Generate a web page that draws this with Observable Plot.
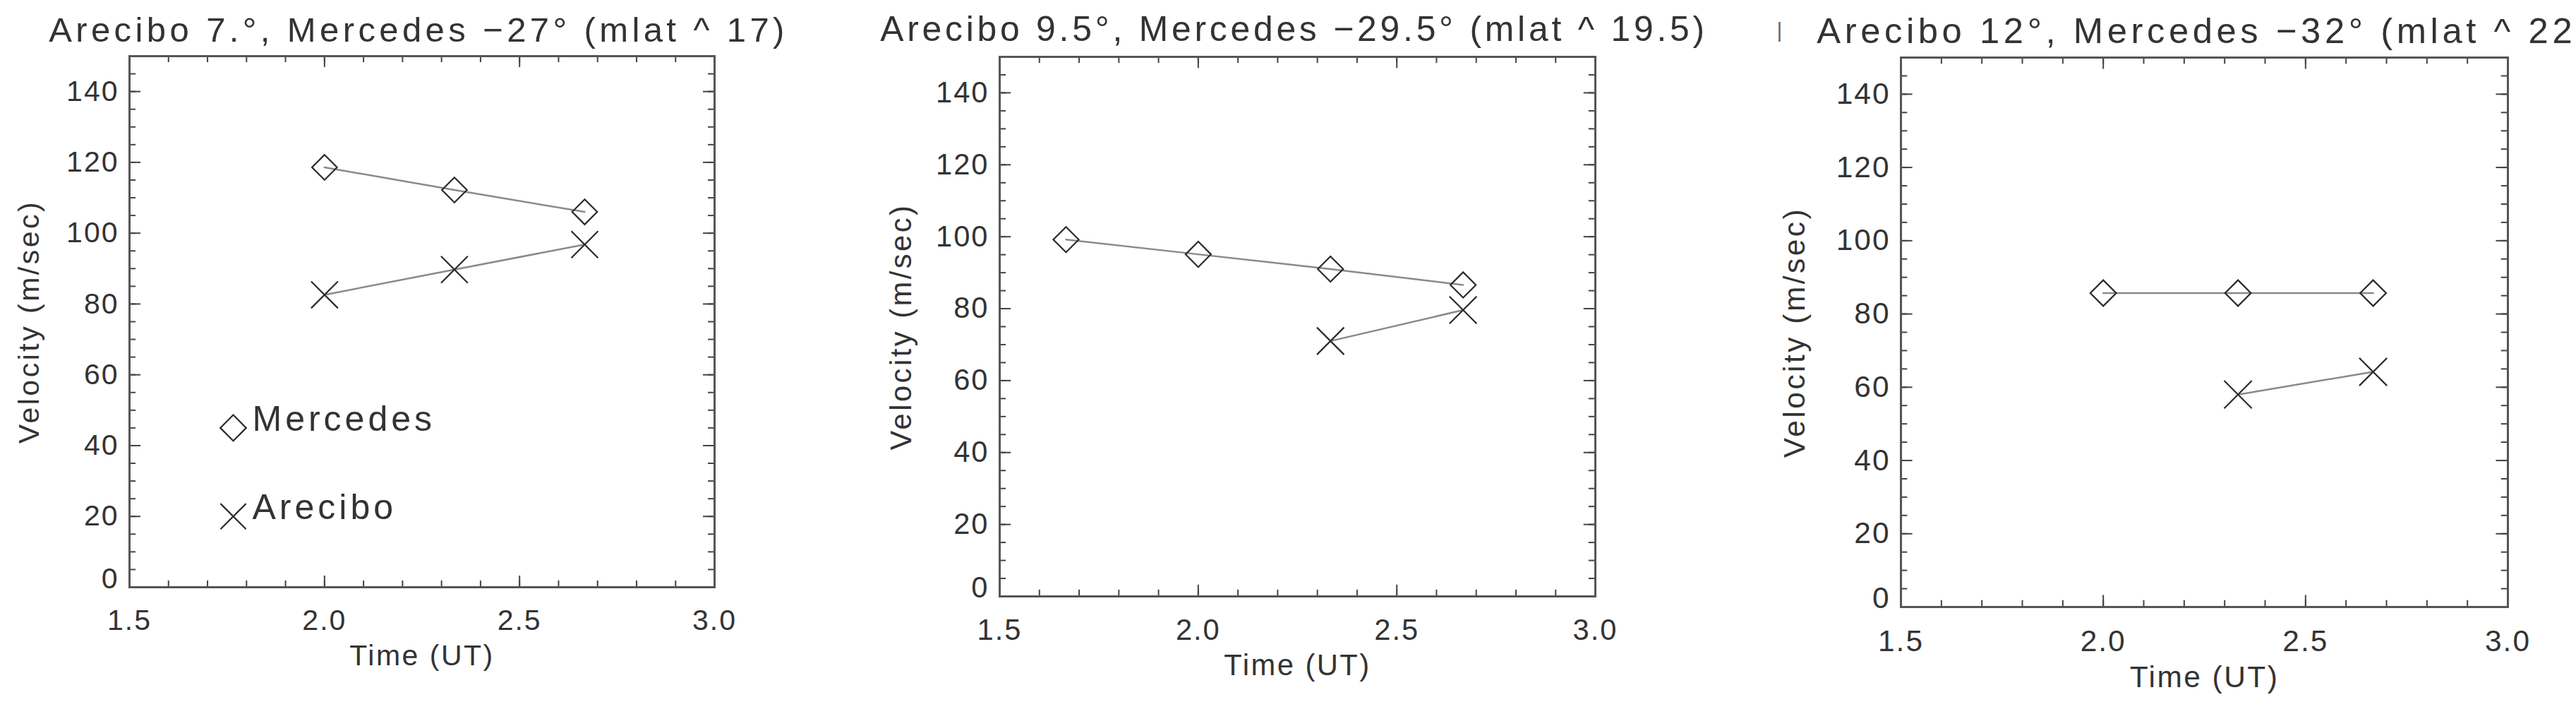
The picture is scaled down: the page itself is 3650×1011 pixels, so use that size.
<!DOCTYPE html>
<html><head><meta charset="utf-8">
<script src="https://cdn.jsdelivr.net/npm/d3@7"></script>
<script src="https://cdn.jsdelivr.net/npm/@observablehq/plot@0.6"></script>
<style>
body{margin:0;background:#fff;}
#chart{position:relative;width:3650px;height:1011px;overflow:hidden;background:#fff;}
.panel{position:absolute;top:0;}
</style></head><body><div id="chart"></div>
<script>
// ---- data ----
const panelTitles = [
  "Arecibo 7.°, Mercedes −27° (mlat ^ 17)",
  "Arecibo 9.5°, Mercedes −29.5° (mlat ^ 19.5)",
  "Arecibo 12°, Mercedes −32° (mlat ^ 22)"
];
const xTickValues = [1.5, 2.0, 2.5, 3.0];
const yTickValues = [0, 20, 40, 60, 80, 100, 120, 140];
const xMinorValues = [1.5, 1.6, 1.7, 1.8, 1.9, 2.0, 2.1, 2.2, 2.3, 2.4, 2.5, 2.6, 2.7, 2.8, 2.9, 3.0];
const yMinorValues = [0, 5, 10, 15, 20, 25, 30, 35, 40, 45, 50, 55, 60, 65, 70, 75, 80, 85, 90, 95, 100, 105, 110, 115, 120, 125, 130, 135, 140, 145, 150];
const mercedesTime = [[2.0, 2.333, 2.667], [1.667, 2.0, 2.333, 2.667], [2.0, 2.333, 2.667]];
const mercedesVelocity = [[118.6, 112.2, 106.0], [99.2, 95.1, 91.0, 86.6], [85.7, 85.7, 85.7]];
const areciboTime = [[2.0, 2.333, 2.667], [2.333, 2.667], [2.333, 2.667]];
const areciboVelocity = [[82.6, 89.7, 96.8], [71.0, 79.6], [58.0, 64.2]];
const legendLabels = ["Mercedes", "Arecibo"];
const legendSymbols = ["diamond2", "times"];
const legendTime = [1.766, 1.766];
const legendVelocity = [45, 20];
const xLabel = "Time (UT)";
const yLabel = "Velocity (m/sec)";
const strayMark = ["|"];

// ---- layout (pixels) ----
const H = 1011;
const layout = [
  {left: 0,    width: 1200, ml: 183, mr: 188, mt: 79, mb: 180, ylabDx: -142, titleDy: -21, titleDx: -5, titleLs: 5.4},
  {left: 1230, width: 1200, ml: 186, mr: 170, mt: 80, mb: 167, ylabDx: -139, titleDy: -23, titleDx: -5, titleLs: 4.8},
  {left: 2460, width: 1190, ml: 233, mr: 97,  mt: 81, mb: 152, ylabDx: -150, titleDy: -21, titleDx: 0, titleLs: 5.6}
];
const ink = "#333";
const frameInk = "#555";
const lineInk = "#8a8a8a";

const chart = document.getElementById("chart");

layout.forEach((L, i) => {
  const pw = L.width - L.ml - L.mr;
  const ph = H - L.mt - L.mb;
  const s = ph / 752;
  const fs = 41 * s;
  const merc = mercedesTime[i].map((t, j) => ({t, v: mercedesVelocity[i][j]}));
  const arec = areciboTime[i].map((t, j) => ({t, v: areciboVelocity[i][j]}));
  const tickStyle = {stroke: "#444", strokeWidth: 2};
  const major = 16 * s, minor = 9 * s;

  const marks = [
    Plot.ruleX(xMinorValues, {x: d => d, insetTop: ph - minor, ...tickStyle}),
    Plot.ruleX(xMinorValues, {x: d => d, insetBottom: ph - minor, ...tickStyle}),
    Plot.ruleX(xTickValues, {x: d => d, insetTop: ph - major, ...tickStyle}),
    Plot.ruleX(xTickValues, {x: d => d, insetBottom: ph - major, ...tickStyle}),
    Plot.ruleY(yMinorValues, {y: d => d, insetRight: pw - minor, ...tickStyle}),
    Plot.ruleY(yMinorValues, {y: d => d, insetLeft: pw - minor, ...tickStyle}),
    Plot.ruleY(yTickValues, {y: d => d, insetRight: pw - major, ...tickStyle}),
    Plot.ruleY(yTickValues, {y: d => d, insetLeft: pw - major, ...tickStyle}),
    Plot.frame({stroke: frameInk, strokeWidth: 3}),
    Plot.axisY({anchor: "left", ticks: yTickValues.filter(v => v > 0), tickSize: 0, tickPadding: 15, fontSize: fs, label: null, fill: ink}),
    Plot.axisY({anchor: "left", ticks: yTickValues.filter(v => v === 0), tickSize: 0, tickPadding: 15, dy: -12 * s, fontSize: fs, label: null, fill: ink}),
    Plot.axisX({anchor: "bottom", ticks: xTickValues, tickSize: 0, tickPadding: 31 * s, tickFormat: d3.format(".1f"), fontSize: fs, label: null, fill: ink}),
    Plot.line(merc, {x: "t", y: "v", stroke: lineInk, strokeWidth: 2.5}),
    Plot.line(arec, {x: "t", y: "v", stroke: lineInk, strokeWidth: 2.5}),
    Plot.dot(merc, {x: "t", y: "v", symbol: "diamond2", r: 16 * s, stroke: "#2b2b2b", strokeWidth: 2.2, fill: "none"}),
    Plot.dot(arec, {x: "t", y: "v", symbol: "times", r: 17.3 * s, stroke: "#2b2b2b", strokeWidth: 2.2}),
    Plot.text([panelTitles[i]], {text: d => d, frameAnchor: "top", dx: L.titleDx, dy: L.titleDy, lineAnchor: "bottom", fontSize: 49 * s, fill: ink}),
    Plot.text([xLabel], {text: d => d, frameAnchor: "bottom", dy: 97 * s, lineAnchor: "middle", fontSize: fs, fill: ink}),
    Plot.text([yLabel], {text: d => d, frameAnchor: "left", dx: L.ylabDx, rotate: -90, lineAnchor: "middle", textAnchor: "middle", fontSize: fs, fill: ink})
  ];

  if (i === 0) {
    const leg = legendLabels.map((name, j) => ({name, sym: legendSymbols[j], t: legendTime[j], v: legendVelocity[j]}));
    marks.push(
      Plot.dot(leg, {x: "t", y: "v", symbol: "sym", r: 16.5, stroke: "#2b2b2b", strokeWidth: 2.2, fill: "none"}),
      Plot.text(leg, {x: "t", y: "v", text: "name", dx: 27, dy: -12, textAnchor: "start", lineAnchor: "middle", fontSize: 50, fill: ink})
    );
  }
  if (i === 2) {
    marks.push(Plot.text(strayMark, {text: d => d, frameAnchor: "top-left", dx: -172, dy: -38, lineAnchor: "middle", textAnchor: "middle", fontSize: 30, fill: "#666"}));
  }

  const svg = Plot.plot({
    width: L.width,
    height: H,
    marginLeft: L.ml, marginRight: L.mr, marginTop: L.mt, marginBottom: L.mb,
    x: {domain: [1.5, 3.0]},
    y: {domain: [0, 150]},
    symbol: {type: "identity"},
    style: {fontFamily: "'Liberation Sans', Arial, sans-serif", background: "#fff", color: ink, overflow: "visible"},
    marks
  });
  // widen glyph spacing to match the original vector font
  svg.querySelectorAll("text").forEach(t => {
    const c = t.textContent;
    let ls = 2;
    if (panelTitles.includes(c)) ls = L.titleLs;
    else if (legendLabels.includes(c)) ls = 5;
    else if (c === xLabel) ls = 2.5;
    else if (c === yLabel) ls = 3.5;
    else if (c === "|") ls = 0;
    t.style.letterSpacing = ls + "px";
  });
  const div = document.createElement("div");
  div.className = "panel";
  div.style.left = L.left + "px";
  div.style.width = L.width + "px";
  div.appendChild(svg);
  chart.appendChild(div);
});
</script></body></html>
